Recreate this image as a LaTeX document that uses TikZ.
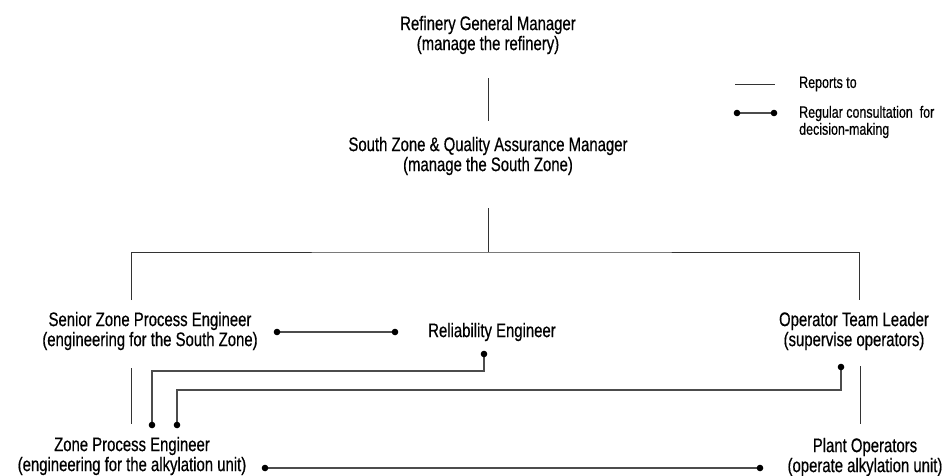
\documentclass[tikz,border=0pt]{standalone}
\usepackage{fontspec}
\setmainfont{Liberation Sans}[FakeStretch=0.76,FakeBold=0.5]
\begin{document}
\begin{tikzpicture}[x=1pt,y=-1pt,
  lbl/.style={align=center,inner sep=0pt,font=\fontsize{19.6}{20}\selectfont},
  leg/.style={align=left,anchor=west,inner sep=0pt,font=\fontsize{16.4}{17}\selectfont},
  rep/.style={draw=black!80,line width=1pt},
  con/.style={draw=black!70,line width=1.1pt},
  dotc/.style={fill=black}]
\useasboundingbox (0,0) rectangle (945,475);

% nodes
\node[lbl] (rgm) at (488,35) {Refinery General Manager\\(manage the refinery)};
\node[lbl] (sz) at (488,156) {South Zone \& Quality Assurance Manager\\(manage the South Zone)};
\node[lbl] (szpe) at (150,331) {Senior Zone Process Engineer\\(engineering for the South Zone)};
\node[lbl] (rel) at (492,332) {Reliability Engineer};
\node[lbl] (otl) at (854,331) {Operator Team Leader\\(supervise operators)};
\node[lbl] (zpe) at (132,456) {Zone Process Engineer\\(engineering for the alkylation unit)};
\node[lbl] (po) at (865,457) {Plant Operators\\(operate alkylation unit)};

% legend
\node[leg] (lrep) at (799,84) {Reports to};
\node[leg] (lcon) at (799,122) {Regular consultation\ \ for\\decision-making};

% junction coordinates
\coordinate (a1) at (488,78);
\coordinate (a2) at (488,121);
\coordinate (b1) at (488,208);
\coordinate (b2) at (488,252);
\coordinate (bl) at (131,300);
\coordinate (br) at (859,300);
\coordinate (c1) at (131,368);
\coordinate (c2) at (131,424);
\coordinate (d1) at (860,366);
\coordinate (d2) at (860,424);
\coordinate (e1) at (277,332);
\coordinate (e2) at (395,332);
\coordinate (f1) at (484,354);
\coordinate (f2) at (152,425);
\coordinate (g1) at (841,367);
\coordinate (g2) at (177,425);
\coordinate (h1) at (265,468);
\coordinate (h2) at (760,468);
\coordinate (l1) at (735,84);
\coordinate (l2) at (775,84);
\coordinate (m1) at (737,113);
\coordinate (m2) at (774,113);

% reports-to lines
\draw[rep] (a1) -- (a2);
\draw[rep] (b1) -- (b2);
\draw[rep] (bl) |- (b2) -| (br);
\draw[rep] (c1) -- (c2);
\draw[rep] (d1) -- (d2);
\draw[rep] (l1) -- (l2);

% consultation lines
\draw[con] (e1) -- (e2);
\draw[con] (f1) -- (f1 |- 0,371) -- (f2 |- 0,371) -- (f2);
\draw[con] (g1) -- (g1 |- 0,390) -- (g2 |- 0,390) -- (g2);
\draw[con] (h1) -- (h2);
\draw[con] (m1) -- (m2);
\foreach \p in {e1,e2,f1,f2,g1,g2,h1,h2,m1,m2}
  \fill[dotc] (\p) circle (3.3pt);
\end{tikzpicture}
\end{document}
